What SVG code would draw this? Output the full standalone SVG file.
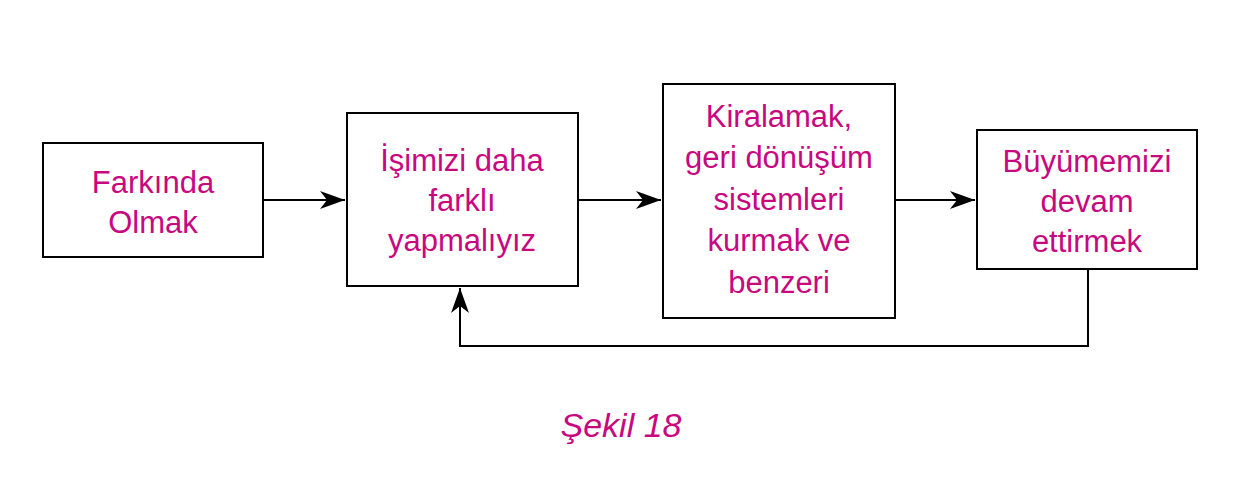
<svg xmlns="http://www.w3.org/2000/svg" width="1245" height="489" viewBox="0 0 1245 489">
<style>
.box{fill:#fff;stroke:#000;stroke-width:2}
.t{font-family:"Liberation Sans",Arial,sans-serif;font-size:31px;fill:#C8087F;text-anchor:middle}
.c{stroke:#000;stroke-width:2;fill:none}
.cap{font-family:"Liberation Sans",Arial,sans-serif;font-size:34px;font-style:italic;fill:#C8087F;text-anchor:middle}
</style>
<defs>
<marker id="ah" markerWidth="26" markerHeight="20" refX="25" refY="9" orient="auto" markerUnits="userSpaceOnUse">
<path d="M0,0 L25,9 L0,18 L7,9 Z" fill="#000"/>
</marker>
</defs>
<rect width="1245" height="489" fill="#fff"/>
<g id="connectors">
<line class="c" x1="263" y1="200" x2="345" y2="200" marker-end="url(#ah)"/>
<line class="c" x1="578" y1="200" x2="661" y2="200" marker-end="url(#ah)"/>
<line class="c" x1="895" y1="200" x2="975" y2="200" marker-end="url(#ah)"/>
<polyline class="c" points="1088,269 1088,346 460,346 460,288" marker-end="url(#ah)"/>
</g>
<g id="n1">
<rect class="box" x="43" y="143" width="220" height="114"/>
<text class="t" x="153" y="193">Farkında</text>
<text class="t" x="153" y="233">Olmak</text>
</g>
<g id="n2">
<rect class="box" x="347" y="113" width="231" height="173"/>
<text class="t" x="462" y="171">İşimizi daha</text>
<text class="t" x="462" y="211">farklı</text>
<text class="t" x="462" y="251">yapmalıyız</text>
</g>
<g id="n3">
<rect class="box" x="663" y="84" width="232" height="234"/>
<text class="t" x="779" y="127">Kiralamak,</text>
<text class="t" x="779" y="168">geri dönüşüm</text>
<text class="t" x="779" y="210">sistemleri</text>
<text class="t" x="779" y="251">kurmak ve</text>
<text class="t" x="779" y="293">benzeri</text>
</g>
<g id="n4">
<rect class="box" x="977" y="130" width="220" height="139"/>
<text class="t" x="1087" y="172">Büyümemizi</text>
<text class="t" x="1087" y="212">devam</text>
<text class="t" x="1087" y="252">ettirmek</text>
</g>
<text class="cap" x="621" y="437">Şekil 18</text>
</svg>
